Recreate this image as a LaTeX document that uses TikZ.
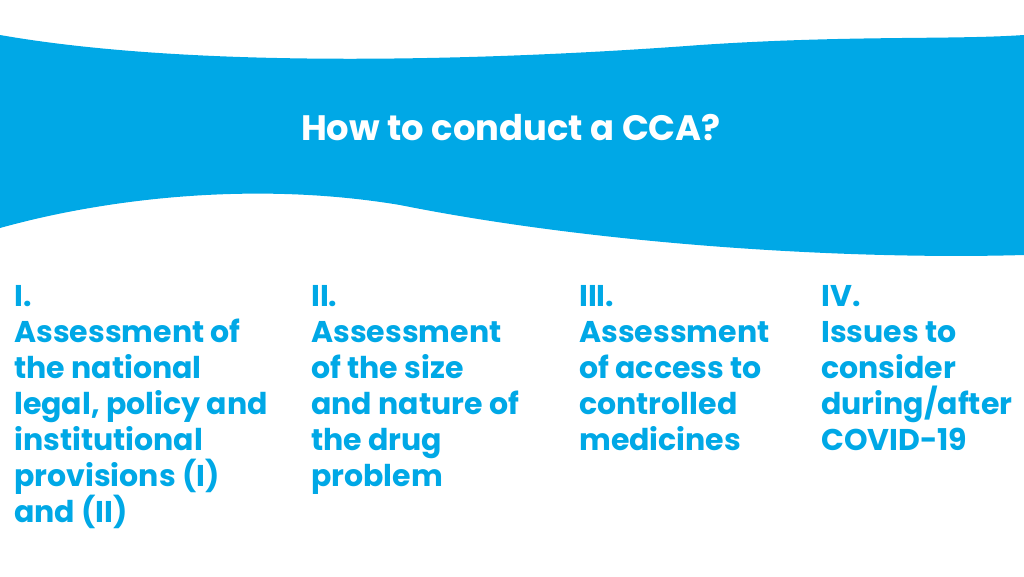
\documentclass[tikz,border=0pt]{standalone}
\usepackage{fontspec}
\setmainfont{Poppins}
\definecolor{unblue}{HTML}{00A8E6}
\tikzset{
  colhead/.style={anchor=north west, align=left, inner sep=0pt, text=unblue,
    font=\fontsize{22.5}{27}\selectfont\bfseries}
}
\begin{document}
\begin{tikzpicture}[x=0.75pt,y=-0.75pt]
    \useasboundingbox (0,0) rectangle (1024,576);
    % Banner
    \fill[unblue] (0,35) .. controls (200,70) and (500,60) .. (700,45)
        .. controls (850,35) and (950,40) .. (1024,35)
        -- (1024,255) .. controls (850,260) and (600,245) .. (400,205)
        .. controls (250,180) and (100,200) .. (0,228) -- cycle;
    \node[text=white, font=\fontsize{26.5}{30}\selectfont\bfseries] (title) at (511,128) {How to conduct a CCA?};

    % Columns
    \node[colhead] (colI) at (14,285) {I.\\Assessment of\\the national\\legal, policy and\\institutional\\provisions (I)\\and (II)};
    \node[colhead] (colII) at (311,285) {II.\\Assessment\\of the size\\and nature of\\the drug\\problem};
    \node[colhead] (colIII) at (579,285) {III.\\Assessment\\of access to\\controlled\\medicines};
    \node[colhead] (colIV) at (821,285) {IV.\\Issues to\\consider\\during/after\\COVID-19};
\end{tikzpicture}
\end{document}
